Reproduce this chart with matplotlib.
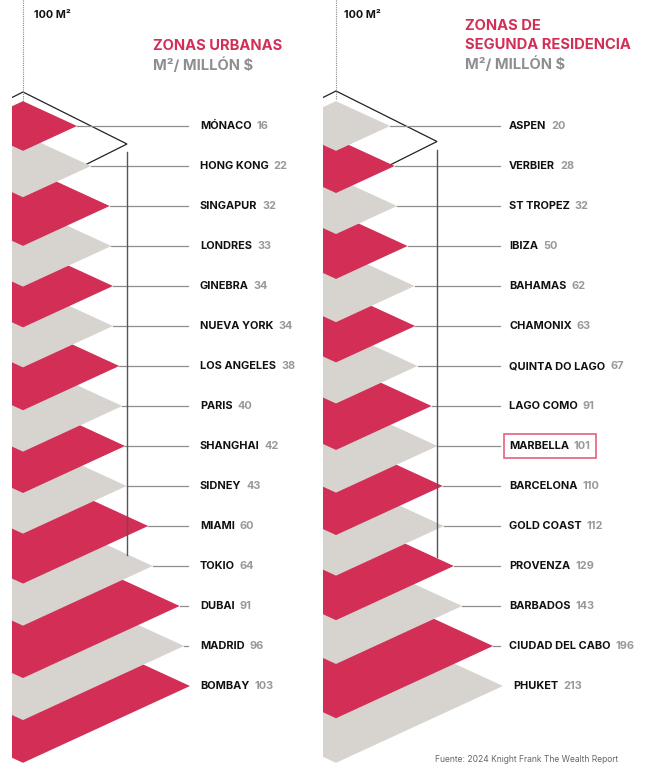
import matplotlib
matplotlib.use("Agg")
import matplotlib.pyplot as plt
from matplotlib.patches import Polygon, Rectangle

plt.rcParams['font.family'] = ['Inter', 'DejaVu Sans']

# data
urban_names = ["MÓNACO", "HONG KONG", "SINGAPUR", "LONDRES", "GINEBRA", "NUEVA YORK",
               "LOS ANGELES", "PARIS", "SHANGHAI", "SIDNEY", "MIAMI", "TOKIO",
               "DUBAI", "MADRID", "BOMBAY"]
urban_values = [16, 22, 32, 33, 34, 34, 38, 40, 42, 43, 60, 64, 91, 96, 103]

resort_names = ["ASPEN", "VERBIER", "ST TROPEZ", "IBIZA", "BAHAMAS", "CHAMONIX",
                "QUINTA DO LAGO", "LAGO COMO", "MARBELLA", "BARCELONA", "GOLD COAST",
                "PROVENZA", "BARBADOS", "CIUDAD DEL CABO", "PHUKET"]
resort_values = [20, 28, 32, 50, 62, 63, 67, 91, 101, 110, 112, 129, 143, 196, 213]

RED = '#d22e56'
GREY = '#d7d4cf'
TXT_GREY = '#8e8e8e'

fig = plt.figure(figsize=(6.63, 7.71), dpi=100)
ax = fig.add_axes([0, 0, 1, 1])
ax.set_xlim(0, 663)
ax.set_ylim(771, 0)
ax.axis('off')
fig.canvas.draw()
renderer = fig.canvas.get_renderer()


def half_width(v, vals, power):
    lo, hi = min(vals) ** power, max(vals) ** power
    return 54 + (v ** power - lo) / (hi - lo) * (167 - 54)


def draw_panel(x0, cx, names, values, power, first_red, line_end, label_x,
               bw, btop, vbottom, highlight=None):
    clip = Rectangle((x0, 0), 330, 771, transform=ax.transData)

    # 100 m2 reference outline
    bh = bw / 2
    ref = Polygon([(cx - bw, btop + bh), (cx, btop), (cx + bw, btop + bh), (cx, btop + 2 * bh)],
                  closed=True, fill=False, edgecolor='#222222', lw=0.9, zorder=1)
    ax.add_patch(ref)
    ref.set_clip_path(clip)
    ax.plot([cx, cx], [0, btop + 9], color='#888888', lw=0.8, ls=(0, (1, 1)), zorder=1)
    ax.plot([cx + bw, cx + bw], [btop + bh + 8, vbottom], color='#555555', lw=1.0, zorder=50)

    n = len(values)
    for i in reversed(range(n)):
        y = 126 + 40 * i
        w = half_width(values[i], values, power)
        h = 0.46 * w
        is_red = (i % 2 == 0) == first_red
        poly = Polygon([(cx - w, y), (cx, y - h), (cx + w, y), (cx, y + h)], closed=True,
                       facecolor=RED if is_red else GREY, edgecolor='none', zorder=10 + (n - i))
        ax.add_patch(poly)
        poly.set_clip_path(clip)

        tip = cx + w
        if tip < line_end - 2:
            ax.plot([tip, line_end], [y, y], color='#8f8f8f', lw=0.9, zorder=40)
        lx = max(label_x, tip + 10)
        t = ax.text(lx, y, names[i], fontsize=7.9, fontweight='bold', color='#111111',
                    va='center', ha='left')
        tw = t.get_window_extent(renderer).width
        t2 = ax.text(lx + tw + 5, y, str(values[i]), fontsize=7.9, fontweight='bold',
                     color='#999999', va='center', ha='left')
        if names[i] == highlight:
            vw = t2.get_window_extent(renderer).width
            ax.add_patch(Rectangle((lx - 5, y - 12), tw + vw + 15, 24, fill=False,
                                   edgecolor='#e6607f', lw=1.2, zorder=60))


draw_panel(12, 23, urban_names, urban_values, 0.4, True, 188, 200, 104, 92, 555)
draw_panel(323, 336, resort_names, resort_values, 1.0, False, 500, 509, 101, 91, 557,
           highlight="MARBELLA")

# titles
ax.text(34, 15, "100 M²", fontsize=7.8, fontweight='bold', color='#111111', va='center')
ax.text(344, 15, "100 M²", fontsize=7.8, fontweight='bold', color='#111111', va='center')

ax.text(153, 46, "ZONAS URBANAS", fontsize=10.6, fontweight='bold', color=RED, va='center')
ax.text(153, 65, "M²/ MILLÓN $", fontsize=10.6, fontweight='bold', color=TXT_GREY, va='center')

ax.text(465, 26, "ZONAS DE", fontsize=10.6, fontweight='bold', color=RED, va='center')
ax.text(465, 45, "SEGUNDA RESIDENCIA", fontsize=10.6, fontweight='bold', color=RED, va='center')
ax.text(465, 64, "M²/ MILLÓN $", fontsize=10.6, fontweight='bold', color=TXT_GREY, va='center')

ax.text(435, 760, "Fuente: 2024 Knight Frank The Wealth Report", fontsize=6.1,
        color='#666666', va='center')

fig.savefig("out.png", dpi=100)
